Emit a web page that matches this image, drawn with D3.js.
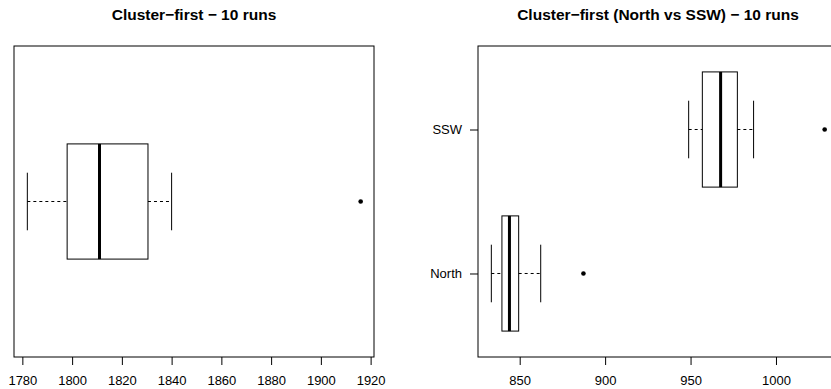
<!DOCTYPE html>
<html>
<head>
<meta charset="utf-8">
<script src="https://cdn.jsdelivr.net/npm/d3@7"></script>
<style>
  body { margin: 0; background: #fff; }
  svg { display: block; font-family: "Liberation Sans", Arial, Helvetica, sans-serif; }
</style>
</head>
<body>
<svg id="chart" width="831" height="389"></svg>
<script>
// five-number summaries: [lower whisker, Q1, median, Q3, upper whisker]
const leftGroups = [""];
const leftStats = [[1782, 1798, 1811, 1830.5, 1840]];
const leftOutliers = [[1916]];
const leftTicks = [1780, 1800, 1820, 1840, 1860, 1880, 1900, 1920];

const rightGroups = ["North", "SSW"];
const rightStats = [
  [833.4, 839.6, 844, 849.4, 862.3],
  [948.9, 956.9, 967.6, 977.4, 986.9]
];
const rightOutliers = [[887.3], [1028.5]];
const rightTicks = [850, 900, 950, 1000];

const svg = d3.select("#chart");
const plotTop = 46, plotBottom = 357;

// R-style 4% padding of the data range
function padded(lo, hi) {
  const r = hi - lo;
  return [lo - 0.04 * r, hi + 0.04 * r];
}

function drawPanel(opts) {
  const { left, width, title, groups, stats, outliers, ticks, boxwex, showY } = opts;
  const g = svg.append("g");

  const all = stats.flat().concat(outliers.flat());
  const x = d3.scaleLinear()
    .domain(padded(d3.min(all), d3.max(all)))
    .range([left, left + width]);
  const y = d3.scaleLinear()
    .domain(padded(0.5, groups.length + 0.5))
    .range([plotBottom, plotTop]);

  // title
  g.append("text")
    .attr("x", left + width / 2)
    .attr("y", 20)
    .attr("text-anchor", "middle")
    .style("font-size", "15.5px")
    .style("font-weight", "bold")
    .text(title);

  stats.forEach((s, i) => {
    const cy = y(i + 1);
    const hw = Math.abs(y(i + 1 - boxwex / 2) - cy);
    const staple = hw / 2;
    const [lo, q1, med, q3, hi] = s;

    // whiskers
    g.append("line")
      .attr("x1", x(lo)).attr("x2", x(q1))
      .attr("y1", cy).attr("y2", cy)
      .attr("stroke", "#000").attr("stroke-dasharray", "3,3");
    g.append("line")
      .attr("x1", x(q3)).attr("x2", x(hi))
      .attr("y1", cy).attr("y2", cy)
      .attr("stroke", "#000").attr("stroke-dasharray", "3,3");
    // staples
    [lo, hi].forEach(v => {
      g.append("line")
        .attr("x1", x(v)).attr("x2", x(v))
        .attr("y1", cy - staple).attr("y2", cy + staple)
        .attr("stroke", "#000");
    });
    // box
    g.append("rect")
      .attr("x", x(q1)).attr("y", cy - hw)
      .attr("width", x(q3) - x(q1)).attr("height", hw * 2)
      .attr("fill", "none").attr("stroke", "#000");
    // median
    g.append("line")
      .attr("x1", x(med)).attr("x2", x(med))
      .attr("y1", cy - hw).attr("y2", cy + hw)
      .attr("stroke", "#000").attr("stroke-width", 3);
    // outliers
    outliers[i].forEach(v => {
      g.append("circle")
        .attr("cx", x(v)).attr("cy", cy).attr("r", 2.3)
        .attr("fill", "#000");
    });
  });

  // frame
  g.append("rect")
    .attr("x", left).attr("y", plotTop)
    .attr("width", width).attr("height", plotBottom - plotTop)
    .attr("fill", "none").attr("stroke", "#000");

  // x axis
  const xa = g.append("g")
    .attr("transform", `translate(0,${plotBottom})`)
    .call(d3.axisBottom(x).tickValues(ticks).tickSize(8).tickPadding(11).tickFormat(d3.format("d")));
  xa.select(".domain").remove();
  xa.selectAll("text").style("font-size", "13px").attr("fill", "#000");
  xa.selectAll("line").attr("stroke", "#000");

  if (showY) {
    const ya = g.append("g")
      .attr("transform", `translate(${left},0)`)
      .call(d3.axisLeft(y).tickValues(groups.map((d, i) => i + 1))
        .tickSize(8).tickPadding(8).tickFormat((d, i) => groups[i]));
    ya.select(".domain").remove();
    ya.selectAll("text").style("font-size", "13px").attr("fill", "#000");
    ya.selectAll("line").attr("stroke", "#000");
  }
}

drawPanel({
  left: 14, width: 360,
  title: "Cluster\u2212first \u2212 10 runs",
  groups: leftGroups, stats: leftStats, outliers: leftOutliers,
  ticks: leftTicks, boxwex: 0.4, showY: false
});

drawPanel({
  left: 478, width: 360,
  title: "Cluster\u2212first (North vs SSW) \u2212 10 runs",
  groups: rightGroups, stats: rightStats, outliers: rightOutliers,
  ticks: rightTicks, boxwex: 0.8, showY: true
});
</script>
</body>
</html>
